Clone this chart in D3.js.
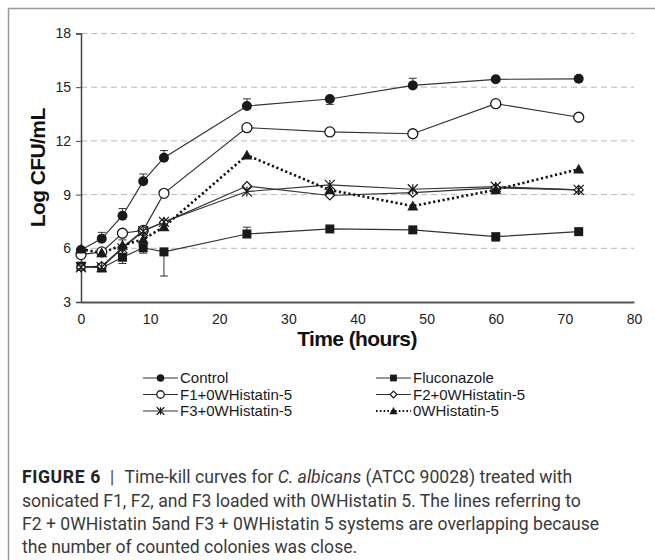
<!DOCTYPE html>
<html>
<head>
<meta charset="utf-8">
<script src="https://cdn.jsdelivr.net/npm/d3@7"></script>
<style>
  html, body { margin: 0; padding: 0; background: #fff; }
  svg { display: block; }
  .caption { font-family: Roboto, "Liberation Sans", sans-serif; font-size: 17.6px; fill: #3a3a3a; }
</style>
</head>
<body>
<svg id="chart" width="655" height="560"></svg>
<script>
// Sampling times (hours)
const times = [0, 3, 6, 9, 12, 24, 36, 48, 60, 72];

// Log CFU/mL per treatment
const control     = [5.9, 6.54, 7.82, 9.75, 11.06, 13.95, 14.34, 15.1, 15.44, 15.47];
const fluconazole = [5.0, 4.9, 5.5, 6.03, 5.8, 6.8, 7.08, 7.03, 6.65, 6.93];
const f1Histatin  = [5.65, 5.8, 6.84, 7.0, 9.07, 12.74, 12.5, 12.4, 14.08, 13.32];
const f2Histatin  = [4.95, 5.0, 6.05, 7.0, 7.45, 9.48, 8.95, 9.11, 9.38, 9.26];
const f3Histatin  = [4.94, 4.95, 6.0, 6.95, 7.48, 9.17, 9.54, 9.3, 9.44, 9.26];
const histatin    = [5.95, 5.75, 6.17, 6.5, 7.2, 11.2, 9.26, 8.36, 9.27, 10.42];

// One-sided error bars (positive = drawn above, negative = drawn below)
const controlErr     = [0, 0.35, 0.4, 0.4, 0.4, 0.4, -0.3, 0.4, 0, 0];
const fluconazoleErr = [0, -0.15, -0.35, -0.3, -1.35, 0.38, 0, 0, -0.25, 0];
const histatinErr    = [0, 0, 0.3, 0, 0, 0, 0, 0, 0, 0];

// Axis ticks
const yTicks = [3, 6, 9, 12, 15, 18];
const xTicks = [0, 10, 20, 30, 40, 50, 60, 70, 80];

const seriesNames = ["Control", "Fluconazole", "F1+0WHistatin-5", "F2+0WHistatin-5", "F3+0WHistatin-5", "0WHistatin-5"];

const captionLines = [
  [{t: "FIGURE 6", b: true}, {t: "|", sep: true}, {t: "Time-kill curves for ", lead: true}, {t: "C. albicans", i: true}, {t: " (ATCC 90028) treated with"}],
  [{t: "sonicated F1, F2, and F3 loaded with 0WHistatin 5. The lines referring to"}],
  [{t: "F2 + 0WHistatin 5and F3 + 0WHistatin 5 systems are overlapping because"}],
  [{t: "the number of counted colonies was close."}]
];

const svg = d3.select("#chart");

// Figure frame (top and left rules)
svg.append("path")
  .attr("d", "M8.5,560 L8.5,8.5 L655,8.5")
  .attr("fill", "none").attr("stroke", "#9a9a9a").attr("stroke-width", 1.5);

const plot = { left: 81, right: 634, top: 33.5, bottom: 302 };

const x = d3.scaleLinear().domain([0, 80]).range([plot.left, plot.right]);
const y = d3.scaleLinear().domain([3, 18]).range([plot.bottom, plot.top]);

// Dashed horizontal gridlines
svg.append("g").selectAll("line")
  .data(yTicks.filter(v => v > 3))
  .join("line")
  .attr("x1", plot.left).attr("x2", plot.right)
  .attr("y1", d => y(d)).attr("y2", d => y(d))
  .attr("stroke", "#b8b8b8").attr("stroke-width", 1)
  .attr("stroke-dasharray", "6,4");

// Y axis
const yAxis = svg.append("g")
  .attr("transform", `translate(${plot.left},0)`)
  .call(d3.axisLeft(y).tickValues(yTicks).tickSize(5).tickPadding(5));
yAxis.select(".domain").attr("stroke", "#444").attr("stroke-width", 1.5);
yAxis.selectAll(".tick line").attr("stroke", "#444");
yAxis.selectAll(".tick text")
  .attr("font-family", "Arial, 'Liberation Sans', sans-serif")
  .attr("font-size", 14).attr("fill", "#222");

// X axis
const xAxis = svg.append("g")
  .attr("transform", `translate(0,${plot.bottom})`)
  .call(d3.axisBottom(x).tickValues(xTicks).tickSize(0).tickPadding(12));
xAxis.select(".domain").attr("stroke", "#555").attr("stroke-width", 2);
xAxis.selectAll(".tick text")
  .attr("font-family", "Arial, 'Liberation Sans', sans-serif")
  .attr("font-size", 14).attr("fill", "#222");

// Axis titles
svg.append("text")
  .attr("x", 357).attr("y", 346)
  .attr("text-anchor", "middle")
  .attr("font-family", "Arial, 'Liberation Sans', sans-serif")
  .attr("font-weight", "bold").attr("font-size", 21).attr("letter-spacing", -0.6)
  .attr("fill", "#111")
  .text("Time (hours)");

svg.append("text")
  .attr("transform", `translate(45,${(plot.top + plot.bottom) / 2}) rotate(-90)`)
  .attr("text-anchor", "middle")
  .attr("font-family", "Arial, 'Liberation Sans', sans-serif")
  .attr("font-weight", "bold").attr("font-size", 21).attr("letter-spacing", -0.6)
  .attr("fill", "#111")
  .text("Log CFU/mL");

// Marker drawing helpers
const ink = "#1a1a1a";
function drawMarker(g, kind, cx, cy, scale = 1) {
  switch (kind) {
    case "dot":
      g.append("circle").attr("cx", cx).attr("cy", cy).attr("r", 5 * scale).attr("fill", ink);
      break;
    case "ring":
      g.append("circle").attr("cx", cx).attr("cy", cy).attr("r", 5 * scale)
        .attr("fill", "#fff").attr("stroke", ink).attr("stroke-width", 1.3);
      break;
    case "square": {
      const s = 9 * scale;
      g.append("rect").attr("x", cx - s / 2).attr("y", cy - s / 2).attr("width", s).attr("height", s).attr("fill", ink);
      break;
    }
    case "diamond": {
      const s = 4.5 * scale;
      g.append("path").attr("d", `M${cx},${cy - s}L${cx + s},${cy}L${cx},${cy + s}L${cx - s},${cy}Z`)
        .attr("fill", "#fff").attr("stroke", ink).attr("stroke-width", 1.2);
      break;
    }
    case "star": {
      const s = 5 * scale;
      g.append("path")
        .attr("d", `M${cx - s},${cy - s}L${cx + s},${cy + s}M${cx - s},${cy + s}L${cx + s},${cy - s}M${cx},${cy - s}L${cx},${cy + s}`)
        .attr("stroke", ink).attr("stroke-width", 1.2).attr("fill", "none");
      break;
    }
    case "triangle": {
      const s = 5.5 * scale;
      g.append("path").attr("d", `M${cx},${cy - s}L${cx + s},${cy + s * 0.8}L${cx - s},${cy + s * 0.8}Z`).attr("fill", ink);
      break;
    }
  }
}

const series = [
  { name: seriesNames[0], values: control,     err: controlErr,     marker: "dot",      dash: null },
  { name: seriesNames[1], values: fluconazole, err: fluconazoleErr, marker: "square",   dash: null },
  { name: seriesNames[2], values: f1Histatin,  err: null,           marker: "ring",     dash: null },
  { name: seriesNames[3], values: f2Histatin,  err: null,           marker: "diamond",  dash: null },
  { name: seriesNames[4], values: f3Histatin,  err: null,           marker: "star",     dash: null },
  { name: seriesNames[5], values: histatin,    err: histatinErr,    marker: "triangle", dash: "2.2,2.6" }
];

const line = d3.line().x(d => x(d[0])).y(d => y(d[1]));

// Error bars first, then lines, then markers
const errG = svg.append("g");
series.forEach(s => {
  if (!s.err) return;
  s.err.forEach((e, i) => {
    if (!e) return;
    const cx = x(times[i]), y0 = y(s.values[i]), y1 = y(s.values[i] + e);
    errG.append("line").attr("x1", cx).attr("x2", cx).attr("y1", y0).attr("y2", y1)
      .attr("stroke", "#333").attr("stroke-width", 1);
    errG.append("line").attr("x1", cx - 4).attr("x2", cx + 4).attr("y1", y1).attr("y2", y1)
      .attr("stroke", "#333").attr("stroke-width", 1);
  });
});

const lineG = svg.append("g");
series.forEach(s => {
  const pts = times.map((t, i) => [t, s.values[i]]);
  lineG.append("path").attr("d", line(pts))
    .attr("fill", "none")
    .attr("stroke", s.dash ? "#111" : "#333")
    .attr("stroke-width", s.dash ? 2.6 : 1.2)
    .attr("stroke-dasharray", s.dash);
});

const markG = svg.append("g");
series.forEach(s => {
  s.values.forEach((v, i) => drawMarker(markG, s.marker, x(times[i]), y(v)));
});

// Legend (two columns, three rows)
const legendG = svg.append("g");
const legendCols = [143, 376];
const legendRows = [378, 394.5, 411];
series.forEach((s, i) => {
  const lx = legendCols[i % 2], ly = legendRows[Math.floor(i / 2)];
  const g = legendG.append("g");
  g.append("line").attr("x1", lx).attr("x2", lx + 35).attr("y1", ly).attr("y2", ly)
    .attr("stroke", s.dash ? "#111" : "#333")
    .attr("stroke-width", s.dash ? 2 : 1.2)
    .attr("stroke-dasharray", s.dash ? "1.6,2.2" : null);
  drawMarker(g, s.marker, lx + 17.5, ly, 0.75);
  g.append("text").attr("x", lx + 37).attr("y", ly).attr("dy", "0.35em")
    .attr("font-family", "Arial, 'Liberation Sans', sans-serif")
    .attr("font-size", 15).attr("fill", "#1a1a1a")
    .text(s.name);
});

// Caption
const capG = svg.append("g");
const capBaselines = [483, 507, 530, 553];
captionLines.forEach((parts, li) => {
  const t = capG.append("text").attr("class", "caption")
    .attr("x", 22).attr("y", capBaselines[li]);
  parts.forEach(p => {
    const ts = t.append("tspan").text(p.t);
    if (p.b) ts.attr("font-weight", "bold").attr("fill", "#222").attr("letter-spacing", 0.6);
    if (p.i) ts.attr("font-style", "italic");
    if (p.sep) ts.attr("fill", "#555").attr("font-size", 19).attr("dx", 9);
    if (p.lead) ts.attr("dx", 10);
  });
});
</script>
</body>
</html>
